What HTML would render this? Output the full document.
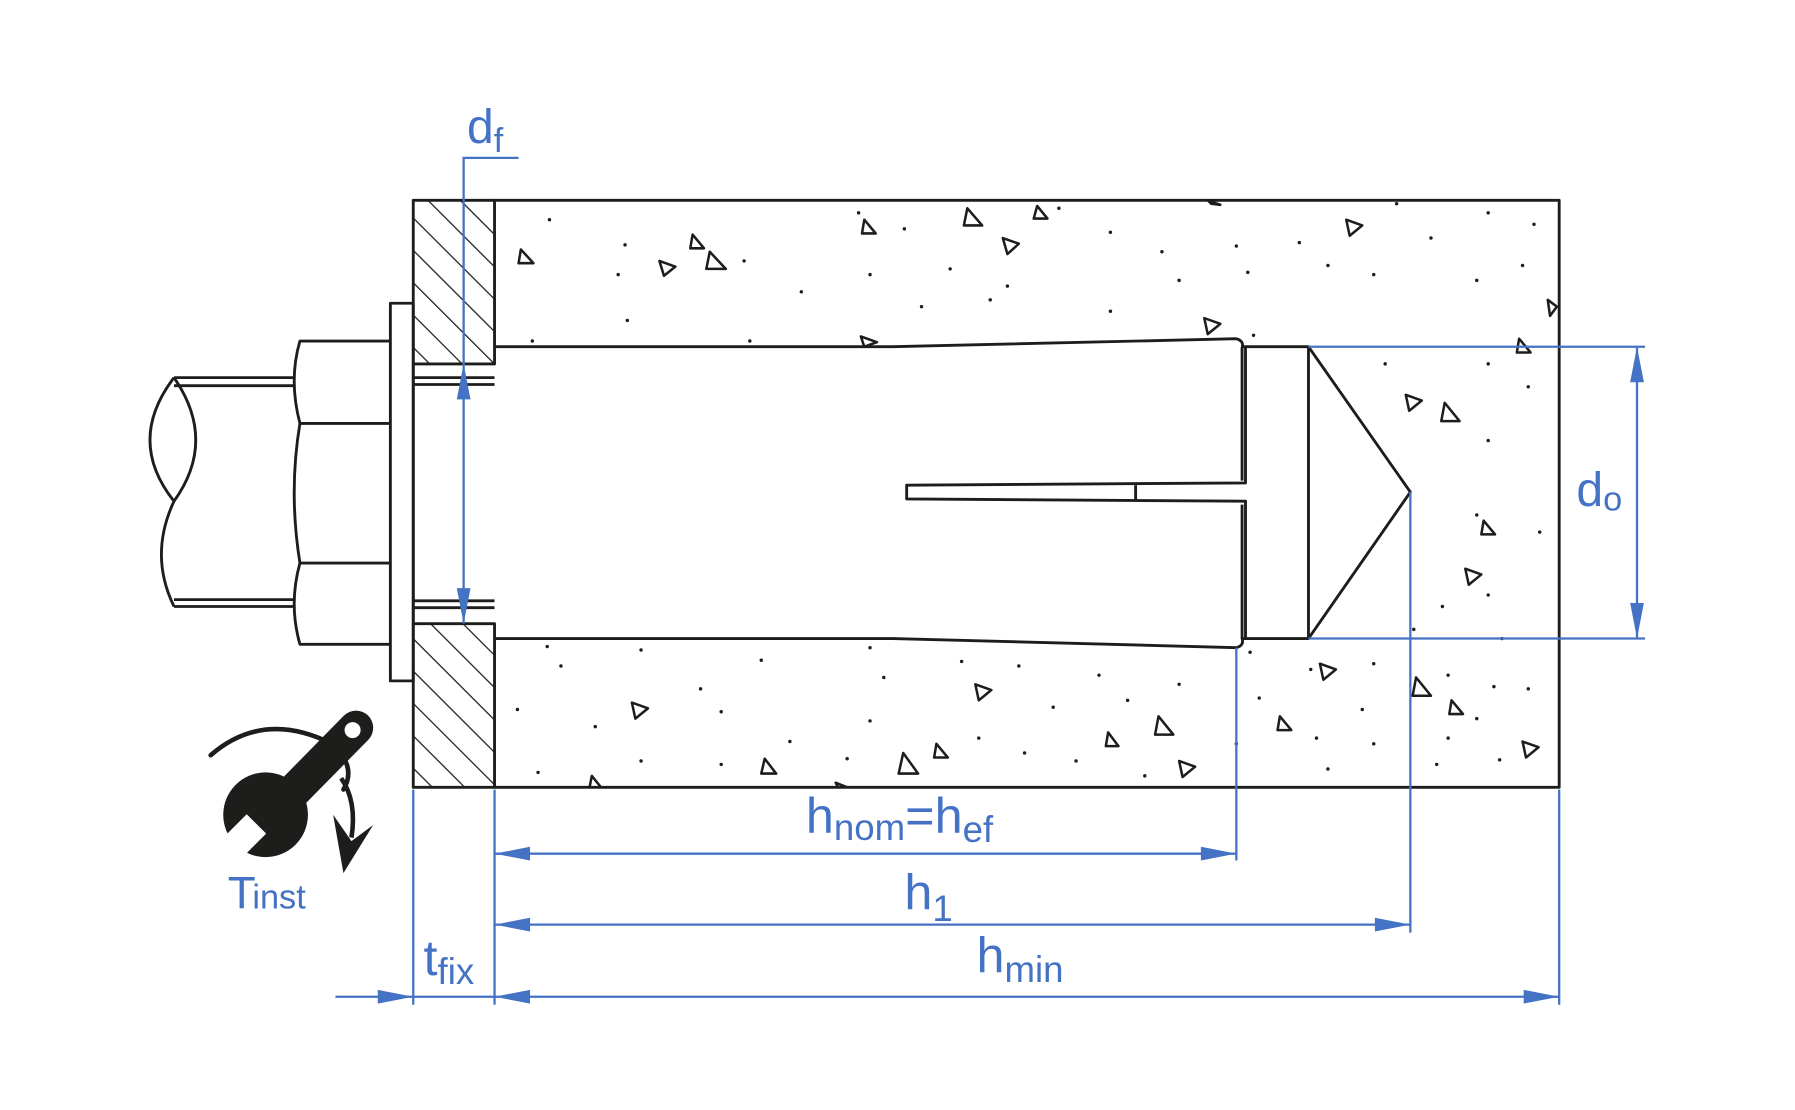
<!DOCTYPE html>
<html><head><meta charset="utf-8"><style>html,body{margin:0;padding:0;background:#fff}svg{display:block}</style></head>
<body>
<svg width="1795" height="1110" viewBox="0 0 1568 970" preserveAspectRatio="none" xmlns="http://www.w3.org/2000/svg">
<defs>
<pattern id="hat" patternUnits="userSpaceOnUse" width="20" height="20" patternTransform="rotate(-45)">
<line x1="0" y1="0" x2="0" y2="20" stroke="#1d1d1b" stroke-width="2.2"/>
</pattern>
<clipPath id="pl"><rect x="361" y="175" width="71" height="143"/><rect x="361" y="545" width="71" height="143"/></clipPath>
</defs>
<g fill="none" stroke="#1d1d1b" stroke-width="2.5" stroke-linejoin="round">
<rect x="361" y="175" width="71" height="513" fill="url(#hat)" clip-path="url(#pl)" stroke="none"/>
<rect x="361" y="175" width="71" height="143"/>
<rect x="361" y="545" width="71" height="143"/>
<line x1="361" y1="318" x2="361" y2="545"/>
<line x1="361" y1="330" x2="432" y2="330"/><line x1="361" y1="336" x2="432" y2="336"/>
<line x1="361" y1="525" x2="432" y2="525"/><line x1="361" y1="531" x2="432" y2="531"/>
<path d="M432 175 H1362 V688 H432"/>
<path d="M432 303 H780 L1080 296 Q1087 298 1085 304 V420"/>
<path d="M432 558 H780 L1080 566 Q1087 564 1085 558 V441"/>
<path d="M1088 303 V422 L792 424 V436 L1088 438 V558"/>
<line x1="992" y1="424" x2="992" y2="438"/>
<path d="M1085 303 H1143 V558 H1085"/>
<path d="M1143 303 L1232 430 L1143 558"/>
<rect x="341" y="265" width="20" height="330"/>
<path d="M341 298 H262 Q252 332 262 370 Q252 430 262 492 Q252 528 262 563 H341"/>
<line x1="262" y1="370" x2="341" y2="370"/><line x1="262" y1="492" x2="341" y2="492"/>
<path d="M258 330 H152 M258 337 H152 M258 524 H152 M258 530 H152"/>
<path d="M152 330 Q110 385 152 438 Q130 485 152 530"/>
<path d="M152 330 Q190 385 152 438"/>
</g>
<g fill="#1d1d1b">
<circle cx="480" cy="192" r="1.5"/><circle cx="546" cy="214" r="1.5"/><circle cx="750" cy="186" r="1.5"/><circle cx="790" cy="200" r="1.5"/><circle cx="925" cy="182" r="1.5"/><circle cx="970" cy="203" r="1.5"/><circle cx="1015" cy="220" r="1.5"/><circle cx="1080" cy="215" r="1.5"/><circle cx="1135" cy="212" r="1.5"/><circle cx="1220" cy="178" r="1.5"/><circle cx="1250" cy="208" r="1.5"/><circle cx="1300" cy="186" r="1.5"/><circle cx="1340" cy="196" r="1.5"/><circle cx="540" cy="240" r="1.5"/><circle cx="650" cy="228" r="1.5"/><circle cx="700" cy="255" r="1.5"/><circle cx="760" cy="240" r="1.5"/><circle cx="830" cy="235" r="1.5"/><circle cx="880" cy="250" r="1.5"/><circle cx="970" cy="272" r="1.5"/><circle cx="1030" cy="245" r="1.5"/><circle cx="1090" cy="238" r="1.5"/><circle cx="1160" cy="232" r="1.5"/><circle cx="1200" cy="240" r="1.5"/><circle cx="1290" cy="245" r="1.5"/><circle cx="1330" cy="232" r="1.5"/><circle cx="465" cy="298" r="1.5"/><circle cx="548" cy="280" r="1.5"/><circle cx="655" cy="298" r="1.5"/><circle cx="805" cy="268" r="1.5"/><circle cx="865" cy="262" r="1.5"/><circle cx="1095" cy="293" r="1.5"/><circle cx="1210" cy="318" r="1.5"/><circle cx="1300" cy="318" r="1.5"/><circle cx="1335" cy="338" r="1.5"/><circle cx="1300" cy="385" r="1.5"/><circle cx="1290" cy="450" r="1.5"/><circle cx="1345" cy="465" r="1.5"/><circle cx="1300" cy="520" r="1.5"/><circle cx="1260" cy="530" r="1.5"/><circle cx="1235" cy="550" r="1.5"/><circle cx="1312" cy="558" r="1.5"/>
<circle cx="478" cy="565" r="1.5"/><circle cx="560" cy="568" r="1.5"/><circle cx="665" cy="577" r="1.5"/><circle cx="760" cy="566" r="1.5"/><circle cx="840" cy="578" r="1.5"/><circle cx="890" cy="582" r="1.5"/><circle cx="960" cy="590" r="1.5"/><circle cx="1030" cy="598" r="1.5"/><circle cx="1092" cy="570" r="1.5"/><circle cx="1145" cy="585" r="1.5"/><circle cx="1200" cy="580" r="1.5"/><circle cx="1265" cy="590" r="1.5"/><circle cx="1305" cy="600" r="1.5"/><circle cx="490" cy="582" r="1.5"/><circle cx="612" cy="602" r="1.5"/><circle cx="772" cy="592" r="1.5"/><circle cx="920" cy="618" r="1.5"/><circle cx="985" cy="612" r="1.5"/><circle cx="1100" cy="610" r="1.5"/><circle cx="1190" cy="620" r="1.5"/><circle cx="1290" cy="628" r="1.5"/><circle cx="1335" cy="602" r="1.5"/><circle cx="452" cy="620" r="1.5"/><circle cx="520" cy="635" r="1.5"/><circle cx="630" cy="622" r="1.5"/><circle cx="690" cy="648" r="1.5"/><circle cx="760" cy="630" r="1.5"/><circle cx="855" cy="645" r="1.5"/><circle cx="895" cy="658" r="1.5"/><circle cx="1080" cy="650" r="1.5"/><circle cx="1150" cy="645" r="1.5"/><circle cx="1200" cy="650" r="1.5"/><circle cx="1265" cy="645" r="1.5"/><circle cx="1310" cy="664" r="1.5"/><circle cx="470" cy="675" r="1.5"/><circle cx="560" cy="665" r="1.5"/><circle cx="630" cy="668" r="1.5"/><circle cx="740" cy="663" r="1.5"/><circle cx="940" cy="665" r="1.5"/><circle cx="1000" cy="678" r="1.5"/><circle cx="1160" cy="672" r="1.5"/><circle cx="1255" cy="668" r="1.5"/>
</g>
<g fill="none" stroke="#1d1d1b" stroke-width="2.2" stroke-linejoin="round">
<path d="M455 218 l11 12 h-13z"/><path d="M605 205 l10 12 h-12z"/><path d="M620 220 l14 15 h-17z"/><path d="M576 228 l14 5 l-10 8z"/><path d="M755 192 l10 12 h-12z"/><path d="M845 182 l13 15 h-16z"/><path d="M906 180 l9 11 h-12z"/><path d="M876 208 l14 5 l-10 9z"/><path d="M1055 175 l11 4 l-8 -1z"/><path d="M1176 192 l14 5 l-11 9z"/><path d="M1052 278 l14 5 l-11 9z"/><path d="M752 294 l14 5 l-11 4z"/><path d="M1352 262 l8 6 l-6 8z"/><path d="M1327 296 l10 12 h-12z"/><path d="M1228 345 l14 5 l-11 9z"/><path d="M1262 352 l13 16 h-16z"/><path d="M1296 455 l10 12 h-12z"/><path d="M1280 497 l14 5 l-11 9z"/>
<path d="M552 614 l14 5 l-11 9z"/><path d="M852 598 l14 5 l-11 9z"/><path d="M1153 580 l14 5 l-11 9z"/><path d="M1237 592 l13 16 h-16z"/><path d="M1268 612 l10 12 h-12z"/><path d="M1118 626 l10 12 h-12z"/><path d="M1012 626 l13 16 h-16z"/><path d="M968 640 l9 12 h-11z"/><path d="M818 650 l10 12 h-12z"/><path d="M789 658 l13 18 h-17z"/><path d="M668 663 l10 13 h-13z"/><path d="M1030 665 l14 5 l-11 9z"/><path d="M1330 648 l14 5 l-11 9z"/><path d="M517 678 l8 10 h-10z"/><path d="M730 684 l10 4 h-8z"/>
</g>
<g stroke="#4472c4" stroke-width="2" fill="none">
<path d="M453 138 H405 V545"/>
<line x1="1143" y1="303" x2="1437" y2="303"/><line x1="1143" y1="558" x2="1437" y2="558"/>
<line x1="1430" y1="303" x2="1430" y2="558"/>
<line x1="361" y1="690" x2="361" y2="878"/><line x1="432" y1="690" x2="432" y2="878"/>
<line x1="1080" y1="566" x2="1080" y2="752"/><line x1="1232" y1="430" x2="1232" y2="815"/>
<line x1="1362" y1="690" x2="1362" y2="878"/>
<line x1="432" y1="746" x2="1080" y2="746"/><line x1="432" y1="808" x2="1232" y2="808"/>
<line x1="293" y1="871" x2="1362" y2="871"/>
</g>
<g fill="#4472c4">
<path d="M405 318 l-6 31 h12z"/><path d="M405 545 l-6 -31 h12z"/>
<path d="M1430 303 l-6 31 h12z"/><path d="M1430 558 l-6 -31 h12z"/>
<path d="M432 746 l31 -6 v12z"/><path d="M1080 746 l-31 -6 v12z"/>
<path d="M432 808 l31 -6 v12z"/><path d="M1232 808 l-31 -6 v12z"/>
<path d="M432 871 l31 -6 v12z"/><path d="M1362 871 l-31 -6 v12z"/><path d="M361 871 l-31 -6 v12z"/>
</g>
<!-- wrench icon -->
<g fill="#1d1d1b">
<path d="M184 660 Q230 620 290 650 Q312 670 300 690" fill="none" stroke="#1d1d1b" stroke-width="4" stroke-linecap="round"/>
<path d="M298 680 Q312 700 307 732" fill="none" stroke="#1d1d1b" stroke-width="4"/>
<path d="M291 712 L300 763 L326 721 L307 735z"/>
<line x1="311" y1="636" x2="250" y2="698" stroke="#1d1d1b" stroke-width="30" stroke-linecap="round"/>
<circle cx="232" cy="712" r="37"/>
<path d="M215.5 711.5 L232.5 728.5 L198.5 762.5 L181.5 745.5z" fill="#fff"/>
<circle cx="308" cy="638" r="7" fill="#fff"/>
</g>
<g fill="#4472c4" font-family="Liberation Sans, sans-serif">
<text x="408" y="125" font-size="42">d<tspan font-size="30" dy="8">f</tspan></text>
<text x="1377" y="442" font-size="42">d<tspan font-size="30" dy="4">o</tspan></text>
<text x="704" y="728" font-size="44">h<tspan font-size="32" dy="6">nom</tspan><tspan dy="-6">=h</tspan><tspan font-size="32" dy="8">ef</tspan></text>
<text x="790" y="795" font-size="44">h<tspan font-size="32" dy="10">1</tspan></text>
<text x="853" y="850" font-size="44">h<tspan font-size="32" dy="8">min</tspan></text>
<text x="370" y="852" font-size="44">t<tspan font-size="32" dy="8">fix</tspan></text>
<text x="199" y="794" font-size="40" letter-spacing="-3">T<tspan font-size="30" letter-spacing="0">inst</tspan></text>
</g>
</svg>
</body></html>
